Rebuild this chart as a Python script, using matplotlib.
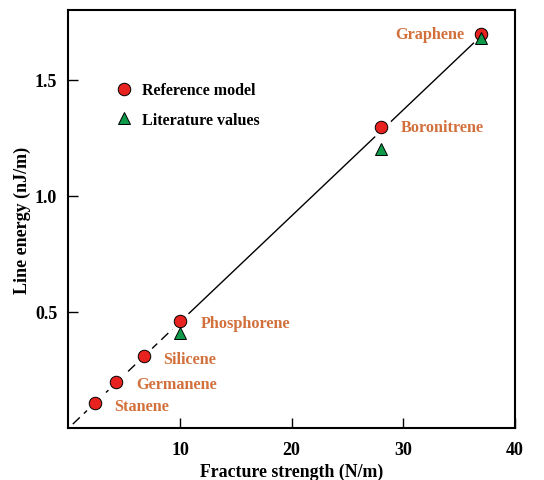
import numpy as np
import matplotlib.pyplot as plt

plt.rcParams['font.family'] = ['Liberation Serif', 'DejaVu Serif']
plt.rcParams['font.weight'] = 'bold'

# 2D materials: fracture strength (N/m) vs line energy (nJ/m)
materials = ['Stanene', 'Germanene', 'Silicene', 'Phosphorene', 'Boronitrene', 'Graphene']
strength = [2.4, 4.3, 6.75, 10.0, 28.0, 37.0]
energy_model = [0.106, 0.20, 0.31, 0.46, 1.295, 1.695]

# literature values available for three of them
lit_strength = [10.0, 28.0, 37.0]
lit_energy = [0.41, 1.20, 1.68]

# linear trend line (dashed at low strength, solid above)
trend_dash_x = [0.4, 10.0]
trend_dash_y = [0.017, 0.457]
trend_solid_x = [10.0, 37.0]
trend_solid_y = [0.457, 1.69]

xticks = [10, 20, 30, 40]
yticks = [0.5, 1.0, 1.5]

label_color = '#D2703C'
red = '#E8231F'
green = '#0F9A4A'

fig = plt.figure(figsize=(5.44, 4.81), dpi=100)
ax = fig.add_axes([0.1256, 0.108, 0.821, 0.869])

ax.plot(trend_dash_x, trend_dash_y, color='black', lw=1.0, ls=(0, (7, 4)), zorder=1)
ax.plot(trend_solid_x, trend_solid_y, color='black', lw=1.0, zorder=1)

# white halo so the line stops short of the markers
ax.plot(strength, energy_model, ls='none', marker='o', ms=16, mfc='white', mec='none', zorder=2)
ax.plot(lit_strength[:2], lit_energy[:2], ls='none', marker='^', ms=13, mfc='white', mec='none', zorder=2)

ax.plot(strength, energy_model, ls='none', marker='o', ms=9, mfc=red, mec='black', mew=0.7,
        zorder=3, label='Reference model')
ax.plot(lit_strength, lit_energy, ls='none', marker='^', ms=9, mfc=green, mec='black', mew=0.7,
        zorder=4, label='Literature values')

# label offsets in points from each red marker
offsets = [(14, -2), (14, -1.5), (14, -2), (15, -1.5), (14, 0), (-12, 0)]
for name, x, y, (dx, dy) in zip(materials, strength, energy_model, offsets):
    ax.annotate(name, (x, y), xytext=(dx, dy), textcoords='offset points',
                ha='left' if dx > 0 else 'right', va='center',
                color=label_color, fontsize=11.7, fontweight='bold')

ax.set_xlim(0, 40)
ax.set_ylim(0, 1.8)
ax.set_xticks(xticks)
ax.set_yticks(yticks)
ax.set_xticklabels([str(t) for t in xticks])
ax.set_yticklabels([f'{t:.1f}' for t in yticks])
ax.tick_params(direction='in', length=7, width=1.0, labelsize=13)
ax.tick_params(axis='x', pad=9)
ax.tick_params(axis='y', pad=8)
for s in ax.spines.values():
    s.set_linewidth(1.5)

ax.set_xlabel('Fracture strength (N/m)', fontsize=12.8, fontweight='bold', labelpad=4)
ax.set_ylabel('Line energy (nJ/m)', fontsize=13, fontweight='bold', labelpad=3)

ax.legend(loc='upper left', bbox_to_anchor=(0.075, 0.862), frameon=False,
          handlelength=1.0, handletextpad=0.6, labelspacing=0.85,
          prop={'size': 11.5, 'weight': 'bold'})

fig.savefig('out.png', dpi=100)
